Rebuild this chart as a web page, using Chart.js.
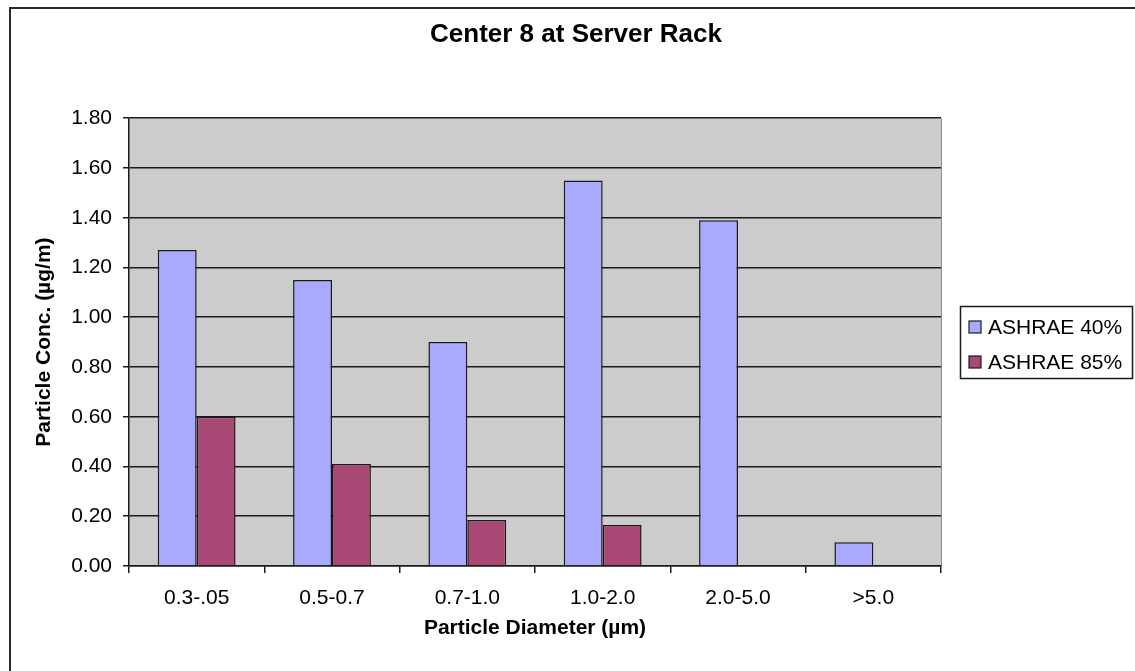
<!DOCTYPE html>
<html>
<head>
<meta charset="utf-8">
<title>Center 8 at Server Rack</title>
<script src="https://cdn.jsdelivr.net/npm/chart.js@4.4.1/dist/chart.umd.min.js"></script>
<style>
    html, body { margin: 0; padding: 0; background: #fff; overflow: hidden; }
    #wrap { position: absolute; left: 0; top: 0; width: 1135px; height: 671px; z-index: 1; }
    #frame {
        position: absolute; left: 9px; top: 7px; z-index: 2;
        width: 1140px; height: 680px;
        border: 2px solid #2b2b2b; box-sizing: border-box;
        pointer-events: none;
    }
</style>
</head>
<body>
<div id="wrap"><canvas id="chart" width="1135" height="671"></canvas></div>
<div id="frame"></div>
<script>
// Chart data
const categories = ['0.3-.05', '0.5-0.7', '0.7-1.0', '1.0-2.0', '2.0-5.0', '>5.0'];
const seriesNames = ['ASHRAE 40%', 'ASHRAE 85%'];
const ashrae40 = [1.27, 1.15, 0.90, 1.55, 1.39, 0.095];
const ashrae85 = [0.60, 0.41, 0.185, 0.165, 0, 0];
const yTickValues = [0, 0.2, 0.4, 0.6, 0.8, 1.0, 1.2, 1.4, 1.6, 1.8];

const FONT = '"Liberation Sans", Arial, sans-serif';
const LINE = '#1a1a1a';

// grey plot area + light right edge, like the old Excel charts
const plotBackground = {
    id: 'plotBackground',
    beforeDraw(chart) {
        const { ctx, chartArea: a } = chart;
        ctx.save();
        ctx.fillStyle = '#fff';
        ctx.fillRect(0, 0, chart.width, chart.height);
        ctx.fillStyle = '#cccccc';
        ctx.fillRect(a.left, a.top, a.right - a.left, a.bottom - a.top);
        ctx.strokeStyle = '#8c8c8c';
        ctx.lineWidth = 1;
        ctx.beginPath();
        ctx.moveTo(a.right + 0.5, a.top);
        ctx.lineTo(a.right + 0.5, a.bottom);
        ctx.stroke();
        ctx.restore();
    }
};

// boxed legend on the right
const boxLegend = {
    id: 'boxLegend',
    afterDraw(chart) {
        const ctx = chart.ctx;
        ctx.save();
        ctx.strokeStyle = LINE;
        ctx.lineWidth = 1.5;
        ctx.strokeRect(960.5, 306.5, 172, 72);
        ctx.font = '21px ' + FONT;
        ctx.textBaseline = 'middle';
        chart.data.datasets.forEach((ds, i) => {
            const y = 327 + i * 35;
            ctx.fillStyle = ds.backgroundColor;
            ctx.fillRect(969, y - 6, 12, 12);
            ctx.lineWidth = 1.2;
            ctx.strokeRect(969, y - 6, 12, 12);
            ctx.fillStyle = '#000';
            ctx.fillText(ds.label, 988, y + 1);
        });
        ctx.restore();
    }
};

const chart = new Chart(document.getElementById('chart').getContext('2d'), {
    type: 'bar',
    data: {
        labels: categories,
        datasets: [
            {
                label: seriesNames[0],
                data: ashrae40,
                backgroundColor: '#a9aaff',
                borderColor: LINE,
                borderWidth: 1.5
            },
            {
                label: seriesNames[1],
                data: ashrae85,
                backgroundColor: '#a94874',
                borderColor: LINE,
                borderWidth: 1.5
            }
        ]
    },
    options: {
        responsive: false,
        animation: false,
        datasets: {
            bar: { barPercentage: 1, categoryPercentage: 0.575 }
        },
        layout: { padding: { left: 17, right: 0, top: 0, bottom: 0 } },
        plugins: {
            legend: { display: false },
            tooltip: { enabled: false },
            title: {
                display: true,
                text: 'Center 8 at Server Rack',
                color: '#000',
                font: { family: FONT, size: 26, weight: 'bold' },
                padding: { top: 19, bottom: 68 }
            }
        },
        scales: {
            x: {
                grid: {
                    display: true,
                    drawOnChartArea: false,
                    drawTicks: true,
                    tickLength: 7,
                    color: LINE,
                    lineWidth: 1.5
                },
                border: { display: true, color: LINE, width: 1.5 },
                ticks: {
                    color: '#000',
                    padding: 13,
                    font: { family: FONT, size: 21 }
                },
                title: {
                    display: true,
                    text: 'Particle Diameter (µm)',
                    color: '#000',
                    font: { family: FONT, size: 21, weight: 'bold' },
                    padding: { top: 0, bottom: 30 }
                },
                afterFit(scale) { scale.height = 105; }
            },
            y: {
                position: 'left',
                min: 0,
                max: 1.8,
                afterBuildTicks(scale) {
                    scale.ticks = yTickValues.map(v => ({ value: v }));
                },
                grid: {
                    color: LINE,
                    lineWidth: 1.5,
                    drawTicks: true,
                    tickLength: 6
                },
                border: { display: true, color: LINE, width: 1.5 },
                ticks: {
                    color: '#000',
                    padding: 11,
                    font: { family: FONT, size: 21 },
                    callback: v => Number(v).toFixed(2)
                },
                title: {
                    display: true,
                    text: 'Particle Conc. (µg/m)',
                    color: '#000',
                    font: { family: FONT, size: 21, weight: 'bold' },
                    padding: { top: 15, bottom: 0 }
                },
                afterFit(scale) { scale.width = 112; }
            },
            // empty axis that only reserves room for the legend
            spacer: {
                position: 'right',
                display: true,
                grid: { display: false },
                border: { display: false },
                ticks: { display: false },
                afterFit(scale) { scale.width = 194; }
            }
        }
    },
    plugins: [plotBackground, boxLegend]
});
</script>
</body>
</html>
